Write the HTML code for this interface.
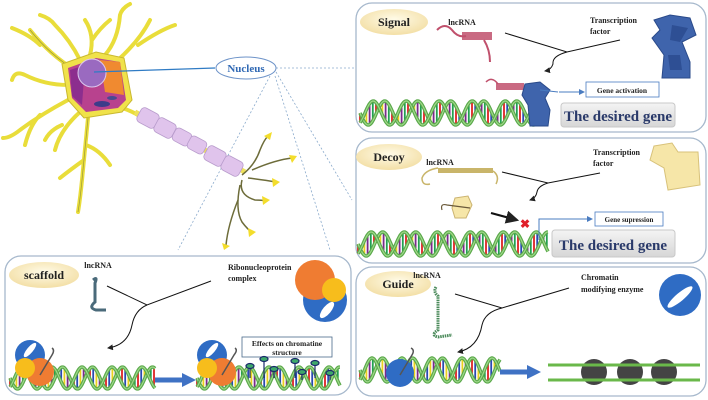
<!DOCTYPE html>
<html><head><meta charset="utf-8"><style>
html,body{margin:0;padding:0;background:#fff;width:708px;height:400px;overflow:hidden}
svg text{font-family:"Liberation Serif",serif;font-weight:bold}
</style></head><body>
<svg id="s" width="708" height="400" viewBox="0 0 708 400" xmlns="http://www.w3.org/2000/svg">
<defs>
<radialGradient id="cream" cx="50%" cy="40%" r="60%"><stop offset="0" stop-color="#fffbe8"/><stop offset="1" stop-color="#f3dfa6"/></radialGradient>
<linearGradient id="gray" x1="0" y1="0" x2="0" y2="1"><stop offset="0" stop-color="#f4f4f4"/><stop offset="1" stop-color="#d6d6d6"/></linearGradient>
<marker id="ar" markerWidth="6" markerHeight="6" refX="5" refY="3" orient="auto"><path d="M0,0 L6,3 L0,6z" fill="#222"/></marker>
<marker id="arb" markerWidth="6" markerHeight="6" refX="5" refY="3" orient="auto"><path d="M0,0 L6,3 L0,6z" fill="#4a7cc0"/></marker>
</defs>

<!-- dotted lines from nucleus -->
<g stroke="#8aaacc" stroke-width="0.8" stroke-dasharray="2,2" fill="none">
<line x1="276" y1="68" x2="356" y2="68"/>
<line x1="276" y1="72" x2="352" y2="200"/>
<line x1="270" y1="76" x2="178" y2="250"/>
<line x1="275" y1="76" x2="330" y2="250"/>
</g>

<!-- Neuron dendrites -->
<g stroke="#e9dd3a" stroke-width="4" fill="none" stroke-linecap="round">
<path d="M75,70 Q50,55 30,30 M40,45 Q30,35 12,28" />
<path d="M80,60 Q70,40 55,25 Q50,18 40,15"/>
<path d="M90,55 Q95,35 85,20 M92,40 Q100,28 110,20"/>
<path d="M105,55 Q118,40 120,15 Q122,8 130,4"/>
<path d="M118,60 Q140,40 150,20 M138,45 Q160,30 175,25"/>
<path d="M68,85 Q45,85 25,75 Q15,70 12,80"/>
<path d="M68,100 Q40,115 20,130 Q10,138 3,138 M40,115 Q30,125 25,145"/>
<path d="M80,112 Q60,130 55,150 M62,125 Q50,130 45,140"/>
<path d="M88,118 Q85,150 82,180 Q80,200 78,212 M86,145 Q100,150 110,165 M84,160 Q70,170 60,178"/>
<path d="M122,108 Q135,112 142,118"/>
</g>
<g stroke="#9b9a3a" stroke-width="0.7" fill="none">
<path d="M75,70 Q50,55 30,30"/><path d="M88,118 Q85,150 82,180 Q80,200 78,212"/>
</g>
<!-- cell body -->
<path d="M62,64 L96,52 L124,58 L132,100 L122,112 L84,118 L68,100 Z" fill="#f0e24a" stroke="#c9b830" stroke-width="1"/>
<path d="M68,68 L96,58 L120,62 L126,100 L118,108 L86,112 L72,98 Z" fill="#b8428e"/>
<path d="M100,60 L120,62 L124,95 L105,92 Z" fill="#f08a30"/>
<path d="M70,70 L85,65 L82,105 L72,96 Z" fill="#8c2e8e"/>
<circle cx="92" cy="73" r="14" fill="#9a6ac0" stroke="#dcc8ee" stroke-width="1"/>
<ellipse cx="102" cy="104" rx="8" ry="3" fill="#3c3c8a"/>
<ellipse cx="112" cy="98" rx="5" ry="2" fill="#4a4a90"/>
<!-- nucleus pointer -->
<line x1="94" y1="72" x2="215" y2="68" stroke="#2f7bc4" stroke-width="1.2"/>
<ellipse cx="246" cy="68" rx="30" ry="11" fill="#fff" stroke="#6c92c8" stroke-width="1"/>
<text x="246" y="72" font-size="11" fill="#2f68b4" text-anchor="middle">Nucleus</text>
<!-- axon -->
<line x1="135" y1="112" x2="245" y2="172" stroke="#efe25a" stroke-width="5"/>
<g fill="#e0c4ec" stroke="#b89ccc" stroke-width="0.8">
<rect x="-10" y="-8" width="20" height="16" rx="4" transform="translate(148,118) rotate(28)"/>
<rect x="-10" y="-8" width="20" height="16" rx="4" transform="translate(165,128) rotate(28)"/>
<rect x="-9" y="-7" width="18" height="14" rx="4" transform="translate(182,137) rotate(28)"/>
<rect x="-9" y="-7" width="18" height="14" rx="4" transform="translate(197,145) rotate(28)"/>
<rect x="-10" y="-8" width="20" height="16" rx="4" transform="translate(215,156) rotate(28)"/>
<rect x="-10" y="-8" width="20" height="16" rx="4" transform="translate(232,166) rotate(28)"/>
</g>
<g stroke="#6d6c3a" stroke-width="1.5" fill="none">
<path d="M242,175 Q255,165 260,150 Q264,140 268,136"/>
<path d="M252,170 Q275,160 292,158"/>
<path d="M248,178 Q265,180 276,182"/>
<path d="M242,180 Q238,195 255,200 Q262,200 266,201"/>
<path d="M240,185 Q235,210 242,222 Q248,230 252,232"/>
<path d="M238,200 Q228,225 226,245"/>
</g>
<g fill="#f3dd2c"><path d="M264,136 L272,132 L270,140Z"/><path d="M289,155 L297,156 L292,163Z"/><path d="M272,178 L280,182 L273,187Z"/><path d="M262,196 L270,200 L263,205Z"/><path d="M248,228 L256,232 L249,237Z"/><path d="M222,243 L230,246 L224,250Z"/></g>

<!-- panels -->
<g fill="#fff" stroke="#a6b8cc" stroke-width="1.3">
<rect x="356" y="3" width="350" height="129" rx="16"/>
<rect x="356" y="138" width="350" height="125" rx="16"/>
<rect x="5" y="256" width="346" height="139" rx="16"/>
<rect x="356" y="267" width="350" height="129" rx="16"/>
</g>
<g id="dna"></g>

<!-- SIGNAL -->
<ellipse cx="394" cy="22" rx="34" ry="13" fill="url(#cream)"/>
<text x="394" y="26" font-size="12" text-anchor="middle" fill="#222">Signal</text>
<text x="462" y="25" font-size="8" text-anchor="middle" fill="#222">lncRNA</text>
<text x="590" y="23" font-size="8" fill="#222">Transcription</text><text x="590" y="34" font-size="8" fill="#222">factor</text>
<path d="M437,30 Q445,22 452,30 Q458,38 466,36" stroke="#c0506c" stroke-width="2" fill="none"/>
<rect x="462" y="32" width="30" height="8" fill="#c0506c" opacity="0.85"/>
<path d="M484,40 Q490,50 490,62" stroke="#c0506c" stroke-width="2" fill="none"/>
<path d="M505,33 L567,52 L620,40 M567,52 Q552,56 553,64 Q551,70 545,71" stroke="#111" stroke-width="1" fill="none" marker-end="url(#ar)"/>
<path d="M654,20 L670,15 L690,18 L696,35 L682,42 L690,62 L690,78 L662,78 L664,55 L652,38 L660,30Z" fill="#3f64ac" stroke="#2a4a8a"/>
<path d="M672,25 L688,28 L680,42 L670,40Z M668,55 L680,55 L682,70 L670,70Z" fill="#2e4f94"/>
<path d="M486,82 Q492,76 498,84" stroke="#c0506c" stroke-width="1.5" fill="none"/>
<rect x="496" y="83" width="28" height="7" fill="#c0506c" opacity="0.85"/>
<path d="M525,84 L540,82 L550,90 L545,98 L550,110 L548,126 L530,126 L528,105 L522,95Z" fill="#3f64ac" stroke="#2a4a8a"/>
<path d="M540,90 L558,92 M559,92 L584,92" stroke="#4a7cc0" stroke-width="1" fill="none" marker-end="url(#arb)"/>
<rect x="586" y="82" width="73" height="15" fill="#fff" stroke="#4a7cc0" stroke-width="0.8"/>
<text x="622" y="93" font-size="7.5" text-anchor="middle" fill="#222">Gene activation</text>
<rect x="561" y="103" width="114" height="24" rx="3" fill="url(#gray)" stroke="#c8c8c8"/>
<text x="618" y="121" font-size="15" text-anchor="middle" fill="#2a3a6a" font-weight="normal" style="font-weight:bold">The desired gene</text>

<!-- DECOY -->
<ellipse cx="389" cy="157" rx="33" ry="13" fill="url(#cream)"/>
<text x="389" y="161" font-size="12" text-anchor="middle" fill="#222">Decoy</text>
<text x="440" y="165" font-size="8" text-anchor="middle" fill="#222">lncRNA</text>
<text x="593" y="155" font-size="8" fill="#222">Transcription</text><text x="593" y="166" font-size="8" fill="#222">factor</text>
<path d="M438,168 Q425,170 422,178 Q422,186 430,184" stroke="#c9b56a" stroke-width="1.5" fill="none"/>
<rect x="438" y="168" width="55" height="5" fill="#c9b56a"/>
<path d="M493,171 Q500,176 496,184" stroke="#c9b56a" stroke-width="1.5" fill="none"/>
<path d="M502,172 L548,183 L600,173 M548,183 Q538,186 537,192 Q536,198 530,200" stroke="#111" stroke-width="1" fill="none" marker-end="url(#ar)"/>
<path d="M654,146 L672,143 L678,152 L698,152 L700,185 L668,190 L664,168 L650,160Z" fill="#f6e6a8" stroke="#d8c27a"/>
<path d="M455,198 L468,196 L472,205 L466,218 L455,218 L452,208Z" fill="#f6e6a8" stroke="#cbb370"/>
<path d="M447,205 L470,208 M447,205 Q440,203 442,210" stroke="#6b5a3a" stroke-width="1.2" fill="none"/>
<path d="M491,213 L517,220" stroke="#111" stroke-width="2.2" marker-end="url(#ar)"/>
<text x="525" y="228" font-size="12" fill="#e0202a" text-anchor="middle">✖</text>
<path d="M539,240 L539,219 L592,219" stroke="#4a7cc0" stroke-width="1" fill="none" marker-end="url(#arb)"/>
<rect x="595" y="212" width="68" height="14" fill="#fff" stroke="#4a7cc0" stroke-width="0.8"/>
<text x="629" y="222" font-size="7" text-anchor="middle" fill="#222">Gene supression</text>
<rect x="552" y="230" width="123" height="27" rx="3" fill="url(#gray)" stroke="#c8c8c8"/>
<text x="613" y="250" font-size="15" text-anchor="middle" fill="#2a3a6a">The desired gene</text>

<!-- SCAFFOLD -->
<ellipse cx="44" cy="275" rx="35" ry="13" fill="url(#cream)"/>
<text x="44" y="279" font-size="12" text-anchor="middle" fill="#222">scaffold</text>
<text x="98" y="268" font-size="8" text-anchor="middle" fill="#222">lncRNA</text>
<text x="228" y="270" font-size="8" fill="#222">Ribonucleoprotein</text><text x="228" y="281" font-size="8" fill="#222">complex</text>
<path d="M93,280 Q98,276 95,283 L95,302 Q88,308 96,310 L106,310" stroke="#4a6a7a" stroke-width="3" fill="none"/>
<path d="M107,286 L147,305 L211,281 M147,305 Q135,310 132,325 Q128,345 108,348" stroke="#111" stroke-width="1" fill="none" marker-end="url(#ar)"/>
<circle cx="325" cy="300" r="22" fill="#2f6cc4"/>
<circle cx="315" cy="280" r="20" fill="#ef7c32"/>
<circle cx="334" cy="290" r="12" fill="#f7bd1c"/>
<ellipse cx="327" cy="310" rx="4" ry="10" fill="#fff" transform="rotate(40 327 310)"/>
<!-- complexes on DNA -->
<circle cx="30" cy="355" r="15" fill="#2f6cc4"/><ellipse cx="30" cy="350" rx="3" ry="9" fill="#fff" transform="rotate(40 30 350)"/>
<circle cx="40" cy="372" r="14" fill="#ef7c32"/><circle cx="25" cy="368" r="10" fill="#f7bd1c"/>
<path d="M40,375 L52,355 Q55,350 52,348" stroke="#555" stroke-width="1.5" fill="none"/>
<circle cx="212" cy="355" r="15" fill="#2f6cc4"/><ellipse cx="212" cy="350" rx="3" ry="9" fill="#fff" transform="rotate(40 212 350)"/>
<circle cx="222" cy="372" r="14" fill="#ef7c32"/><circle cx="207" cy="368" r="10" fill="#f7bd1c"/>
<path d="M222,375 L234,355 Q238,350 235,348" stroke="#555" stroke-width="1.5" fill="none"/>
<path d="M155,380 L183,380" stroke="#3f72c4" stroke-width="5"/><path d="M182,373 L196,380 L182,387Z" fill="#3f72c4"/>
<rect x="242" y="337" width="90" height="20" fill="#fff" stroke="#4a6a8a" stroke-width="0.8"/>
<text x="287" y="346" font-size="7.5" text-anchor="middle" fill="#222">Effects on chromatine</text>
<text x="287" y="355" font-size="7.5" text-anchor="middle" fill="#222">structure</text>
<g stroke="#1a2a6a" stroke-width="1.2" fill="#3ea86a">
<line x1="250" y1="367" x2="250" y2="378"/><ellipse cx="250" cy="366" rx="4" ry="2.5"/>
<line x1="264" y1="360" x2="264" y2="378"/><ellipse cx="264" cy="359" rx="4" ry="2.5"/>
<line x1="274" y1="370" x2="274" y2="378"/><ellipse cx="274" cy="369" rx="4" ry="2.5"/>
<line x1="295" y1="362" x2="295" y2="378"/><ellipse cx="295" cy="361" rx="4" ry="2.5"/>
<line x1="302" y1="373" x2="302" y2="380"/><ellipse cx="302" cy="372" rx="4" ry="2.5"/>
<line x1="315" y1="364" x2="315" y2="378"/><ellipse cx="315" cy="363" rx="4" ry="2.5"/>
<line x1="330" y1="374" x2="330" y2="380"/><ellipse cx="330" cy="373" rx="4" ry="2.5"/>
</g>

<!-- GUIDE -->
<ellipse cx="398" cy="284" rx="33" ry="13" fill="url(#cream)"/>
<text x="398" y="288" font-size="12" text-anchor="middle" fill="#222">Guide</text>
<text x="427" y="278" font-size="8" text-anchor="middle" fill="#222">lncRNA</text>
<text x="581" y="280" font-size="8" fill="#222">Chromatin</text><text x="581" y="292" font-size="8" fill="#222">modifying  enzyme</text>
<path d="M436,287 Q433,292 438,296 L438,330 Q430,335 438,337 L452,335" stroke="#4a8a5a" stroke-width="3" fill="none" stroke-dasharray="1.5,0.8"/>
<path d="M455,294 L502,308 L569,288 M502,308 Q485,312 482,325 Q478,348 458,352" stroke="#111" stroke-width="1" fill="none" marker-end="url(#ar)"/>
<circle cx="680" cy="295" r="21" fill="#2f6cc4"/>
<ellipse cx="680" cy="297" rx="4" ry="16" fill="#fff" transform="rotate(50 680 297)"/>
<circle cx="400" cy="373" r="14" fill="#2f6cc4"/>
<path d="M400,375 L412,355 Q415,350 411,348" stroke="#555" stroke-width="1.5" fill="none"/>
<path d="M500,372 L528,372" stroke="#3f72c4" stroke-width="5"/><path d="M527,365 L541,372 L527,379Z" fill="#3f72c4"/>
<g>
<circle cx="594" cy="372" r="13" fill="#444"/><circle cx="630" cy="372" r="13" fill="#444"/><circle cx="664" cy="372" r="13" fill="#444"/>
<line x1="548" y1="365" x2="700" y2="365" stroke="#6ab84a" stroke-width="3"/>
<line x1="548" y1="380" x2="700" y2="380" stroke="#6ab84a" stroke-width="3"/>
</g>
</svg>
<script>
var g=document.getElementById('dna'),ns='http://www.w3.org/2000/svg';
function dna(x0,x1,yc,amp,per){
 var cols=['#d22','#2a4ab0','#e8d020','#7a2a8a','#22a050'];
 var i=0;
 for(var x=x0;x<x1;x+=3.2){
  var ph=(x-x0)/per*2*Math.PI;
  var a=yc+amp*Math.sin(ph),b=yc+amp*Math.sin(ph+Math.PI*0.7);
  var l=document.createElementNS(ns,'line');
  l.setAttribute('x1',x);l.setAttribute('x2',x);l.setAttribute('y1',a);l.setAttribute('y2',b);
  l.setAttribute('stroke',cols[i++%5]);l.setAttribute('stroke-width','1.8');g.appendChild(l);
 }
 [0,Math.PI*0.7].forEach(function(o){
  var d='';
  for(var x=x0;x<=x1;x+=1){var y=yc+amp*Math.sin((x-x0)/per*2*Math.PI+o);d+=(x==x0?'M':'L')+x+','+y.toFixed(1);}
  var p=document.createElementNS(ns,'path');p.setAttribute('d',d);p.setAttribute('fill','none');
  p.setAttribute('stroke','#5aa84a');p.setAttribute('stroke-width','3.5');g.appendChild(p);
  var q=p.cloneNode();q.setAttribute('stroke','#9ed88a');q.setAttribute('stroke-width','1.2');g.appendChild(q);
 });
}
dna(360,540,113,12,33);
dna(358,548,244,12,33);
dna(10,155,378,11,30);
dna(197,340,378,11,30);
dna(360,500,370,12,30);
</script>
</body></html>
